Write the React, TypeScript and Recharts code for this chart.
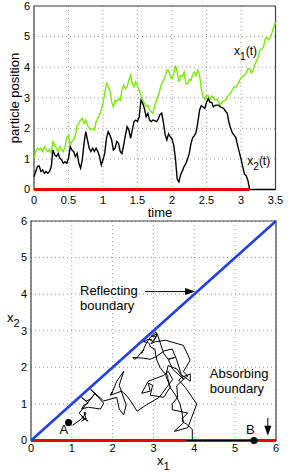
import {
  LineChart,
  Line,
  XAxis,
  YAxis,
  CartesianGrid,
  ReferenceLine,
  ReferenceArea,
  ReferenceDot,
} from "recharts";

const FONT = '"Liberation Sans", Arial, Helvetica, sans-serif';

// sampled every 0.025 time units, t = 0 .. 3.5
const x1Path = [
  1.02, 1.24, 1.35, 1.3, 1.35, 1.24, 1.4, 1.32, 1.24, 1.32,
  1.18, 1.57, 1.46, 1.35, 1.24, 1.4, 1.3, 1.24, 1.4, 1.7,
  1.78, 1.46, 1.57, 1.62, 1.78, 2.1, 2.16, 2.27, 2.33, 2.16,
  2.27, 2.1, 2.0, 1.95, 2.0, 1.95, 2.22, 2.33, 2.44, 2.6,
  2.82, 3.14, 3.47, 3.36, 3.25, 2.87, 2.71, 2.92, 2.87, 2.98,
  2.92, 3.25, 3.41, 3.3, 3.36, 3.58, 3.74, 3.47, 3.36, 3.52,
  3.36, 3.25, 3.09, 2.92, 2.82, 2.71, 2.76, 2.6, 2.54, 2.49,
  2.75, 2.92, 3.08, 3.26, 3.46, 3.57, 3.68, 3.9, 3.9, 3.7,
  3.62, 3.78, 4.06, 3.84, 3.51, 3.73, 3.7, 3.84, 3.46, 3.46,
  3.59, 3.57, 3.76, 3.84, 3.73, 3.9, 3.73, 3.3, 3.05, 2.94,
  3.08, 3.06, 2.94, 3.06, 3.0, 2.92, 2.95, 2.86, 2.76, 2.86,
  2.9, 2.92, 3.03, 3.08, 3.16, 3.26, 3.35, 3.35, 3.41, 3.55,
  3.65, 3.7, 3.73, 3.81, 3.95, 3.95, 3.81, 3.9, 4.09, 4.2,
  4.33, 4.57, 4.6, 4.65, 4.92, 4.98, 4.89, 4.98, 5.14, 5.32,
  5.46,
];
const x2Path = [
  0.42, 0.59, 0.75, 0.77, 0.59, 0.64, 0.53, 0.59, 0.53, 0.59,
  0.75, 1.29, 1.13, 1.08, 1.18, 1.02, 0.97, 0.86, 0.91, 0.86,
  1.02, 1.4, 1.29, 1.24, 1.08, 1.18, 0.86, 0.7, 0.97, 1.51,
  1.89, 1.62, 1.35, 1.24, 1.35, 1.24, 1.35, 1.24, 1.08, 0.8,
  0.97, 1.18, 1.67, 1.89, 1.78, 1.62, 1.29, 1.35, 1.57, 1.51,
  1.24, 1.18, 1.46, 1.78, 2.05, 1.95, 1.67, 1.95, 2.22, 2.27,
  2.22, 2.38, 2.92, 2.82, 2.65, 2.38, 2.49, 2.27, 2.22, 2.27,
  2.25, 2.22, 2.3, 2.45, 2.5, 2.2, 1.8, 1.62, 1.82, 1.73,
  1.65, 1.45, 1.0, 0.35, 0.25, 0.48, 0.6, 0.75, 0.84, 1.0,
  1.18, 1.5, 1.7, 1.76, 1.88, 2.2, 2.6, 2.74, 2.7, 2.65,
  2.85, 2.97, 2.85, 2.85, 2.7, 2.75, 2.76, 2.76, 2.7, 2.68,
  2.65, 2.56, 2.5, 2.2, 2.0, 1.85, 1.78, 1.7, 1.45, 1.22,
  1.0, 0.75, 0.5, 0.45, 0.3, 0, 0, 0, 0, 0,
  0, 0, 0, 0, 0, 0, 0, 0, 0, 0,
  0,
];
const timeTicks = [0, 0.5, 1, 1.5, 2, 2.5, 3, 3.5];
const posTicks = [0, 1, 2, 3, 4, 5, 6];
const absorbTime = 3.125;
const startA = { x: 0.92, y: 0.49 };
const endB = { x: 5.46, y: 0 };

const timeData = x1Path.map((v, i) => ({
  t: +(i * 0.025).toFixed(3),
  x1: v,
  x2: x2Path[i],
}));
const planeData = x1Path.map((v, i) => ({ x: v, y: x2Path[i] }));

const tickStyle = { fontSize: 11, fill: "#000", fontFamily: FONT };

function SubText({ x, y, base, sub, rest = "", size = 12, anchor = "start" }: any) {
  return (
    <text x={x} y={y} fontSize={size} fontFamily={FONT} fill="#000" textAnchor={anchor}>
      <tspan>{base}</tspan>
      <tspan dy={5} fontSize={size * 0.85}>{sub}</tspan>
      {rest ? <tspan dy={-5}>{rest}</tspan> : null}
    </text>
  );
}

const arrowRight = ({ cx, cy }: any) => (
  <path d={`M${cx},${cy} L${cx - 10},${cy - 3.5} L${cx - 10},${cy + 3.5} Z`} fill="#000" />
);
const arrowDown = ({ cx, cy }: any) => (
  <path d={`M${cx},${cy} L${cx - 3.5},${cy - 10} L${cx + 3.5},${cy - 10} Z`} fill="#000" />
);

function TwoLines(lines: string[]) {
  return ({ cx, cy }: any) => (
    <text x={cx} y={cy} fontSize={13} fontFamily={FONT} fill="#000">
      <tspan x={cx}>{lines[0]}</tspan>
      <tspan x={cx} dy={15}>{lines[1]}</tspan>
    </text>
  );
}

function Marker(letter: string, dx: number, dy: number) {
  return ({ cx, cy }: any) => (
    <g>
      <circle cx={cx} cy={cy} r={3.6} fill="#000" />
      <text x={cx + dx} y={cy + dy} fontSize={13} fontFamily={FONT} fill="#000">
        {letter}
      </text>
    </g>
  );
}

function TimePanel() {
  return (
    <LineChart
      width={291}
      height={222}
      data={timeData}
      margin={{ top: 6, right: 15.5, bottom: 0, left: 0 }}
    >
      <CartesianGrid stroke="#999" strokeDasharray="1 3" />
      <XAxis
        dataKey="t"
        type="number"
        domain={[0, 3.5]}
        ticks={timeTicks}
        height={32.5}
        axisLine={false}
        tickLine={false}
        tickSize={0}
        tickMargin={7}
        tick={tickStyle}
        label={{
          content: () => (
            <text x={160} y={217} fontSize={13} fontFamily={FONT} textAnchor="middle" fill="#000">
              time
            </text>
          ),
        }}
      />
      <YAxis
        type="number"
        domain={[0, 6]}
        ticks={posTicks}
        width={34}
        axisLine={false}
        tickLine={false}
        tickSize={0}
        tickMargin={4}
        tick={tickStyle}
        label={{
          content: () => (
            <text
              x={14}
              y={98}
              fontSize={13}
              fontFamily={FONT}
              textAnchor="middle"
              dominantBaseline="central"
              transform="rotate(-90 14 98)"
              fill="#000"
            >
              particle position
            </text>
          ),
        }}
      />
      <ReferenceArea x1={0} x2={3.5} y1={0} y2={6} fill="none" stroke="#444" strokeWidth={1.2} />
      <Line dataKey="x1" stroke="#77ee00" strokeWidth={1.4} dot={false} isAnimationActive={false} />
      <Line dataKey="x2" stroke="#000" strokeWidth={1.4} dot={false} isAnimationActive={false} />
      <ReferenceLine
        segment={[{ x: 0, y: 0 }, { x: absorbTime, y: 0 }]}
        stroke="#ee0000"
        strokeWidth={3}
      />
      <ReferenceDot
        x={2.9}
        y={4.4}
        ifOverflow="visible"
        shape={({ cx, cy }: any) => <SubText x={cx} y={cy} base="x" sub="1" rest="(t)" />}
      />
      <ReferenceDot
        x={3.09}
        y={0.8}
        ifOverflow="visible"
        shape={({ cx, cy }: any) => <SubText x={cx} y={cy} base="x" sub="2" rest="(t)" />}
      />
    </LineChart>
  );
}

function PlanePanel() {
  return (
    <LineChart
      width={291}
      height={276}
      margin={{ top: 25, right: 15, bottom: 0, left: 0 }}
    >
      <CartesianGrid stroke="#999" strokeDasharray="1 3" />
      <XAxis
        dataKey="x"
        type="number"
        domain={[0, 6]}
        ticks={posTicks}
        height={31.5}
        axisLine={false}
        tickLine={false}
        tickSize={0}
        tickMargin={4}
        tick={tickStyle}
        label={{
          content: () => <SubText x={157} y={269} base="x" sub="1" size={13} />,
        }}
      />
      <YAxis
        dataKey="y"
        type="number"
        domain={[0, 6]}
        ticks={posTicks}
        width={31}
        axisLine={false}
        tickLine={false}
        tickSize={0}
        tickMargin={4}
        tick={tickStyle}
        label={{
          content: () => <SubText x={7} y={126} base="x" sub="2" size={13} />,
        }}
      />
      <ReferenceArea x1={0} x2={6} y1={0} y2={6} fill="none" stroke="#444" strokeWidth={1.2} />
      <ReferenceLine y={0} stroke="#ee0000" strokeWidth={3} />
      <ReferenceLine
        segment={[{ x: 0, y: 0 }, { x: 6, y: 6 }]}
        stroke="#2040ee"
        strokeWidth={2.6}
      />
      <Line
        data={planeData}
        dataKey="y"
        stroke="#000"
        strokeWidth={1}
        dot={false}
        isAnimationActive={false}
      />
      <ReferenceDot x={startA.x} y={startA.y} ifOverflow="visible" shape={Marker("A", -9, 11)} />
      <ReferenceDot x={endB.x} y={endB.y} ifOverflow="visible" shape={Marker("B", -8, -7)} />
      <ReferenceDot x={1.2} y={3.98} ifOverflow="visible" shape={TwoLines(["Reflecting", "boundary"])} />
      <ReferenceLine segment={[{ x: 2.79, y: 4.07 }, { x: 3.8, y: 4.07 }]} stroke="#000" strokeWidth={1} />
      <ReferenceDot x={4.02} y={4.07} ifOverflow="visible" shape={arrowRight} />
      <ReferenceDot x={4.38} y={1.71} ifOverflow="visible" shape={TwoLines(["Absorbing", "boundary"])} />
      <ReferenceLine segment={[{ x: 5.8, y: 0.62 }, { x: 5.8, y: 0.3 }]} stroke="#000" strokeWidth={1} />
      <ReferenceDot x={5.8} y={0.13} ifOverflow="visible" shape={arrowDown} />
    </LineChart>
  );
}

export default function App() {
  return (
    <div
      style={{
        position: "absolute",
        left: 0,
        top: 0,
        width: 291,
        height: 472,
        background: "#fff",
        fontFamily: FONT,
      }}
    >
      <div style={{ position: "absolute", left: 0, top: 0 }}>
        <TimePanel />
      </div>
      <div style={{ position: "absolute", left: 0, top: 196 }}>
        <PlanePanel />
      </div>
    </div>
  );
}
